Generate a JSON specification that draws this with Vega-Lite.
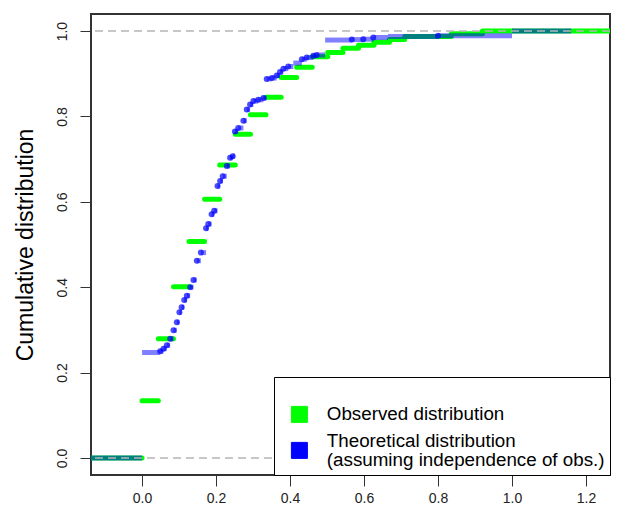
{
  "$schema": "https://vega.github.io/schema/vega-lite/v6.json",
  "width": 519,
  "height": 461,
  "autosize": "none",
  "padding": {"left": 91, "top": 14, "right": 14, "bottom": 37},
  "background": "white",
  "config": {
    "view": {"stroke": "#333333", "strokeWidth": 2},
    "font": "Liberation Sans",
    "axis": {
      "grid": false,
      "domain": false,
      "tickColor": "#333333",
      "tickSize": 11,
      "tickWidth": 1,
      "labelFontSize": 14,
      "labelColor": "#222222",
      "labelFont": "Liberation Sans",
      "titleFont": "Liberation Sans"
    }
  },
  "datasets": {
    "observed": [
      {"x": -0.3, "x_end": 0.0, "cdf": 0},
      {"x": 0.0, "x_end": 0.044, "cdf": 0.134},
      {"x": 0.044, "x_end": 0.085, "cdf": 0.279},
      {"x": 0.085, "x_end": 0.127, "cdf": 0.401},
      {"x": 0.127, "x_end": 0.169, "cdf": 0.507},
      {"x": 0.169, "x_end": 0.21, "cdf": 0.606},
      {"x": 0.21, "x_end": 0.252, "cdf": 0.686},
      {"x": 0.252, "x_end": 0.293, "cdf": 0.758},
      {"x": 0.293, "x_end": 0.335, "cdf": 0.804},
      {"x": 0.335, "x_end": 0.376, "cdf": 0.845},
      {"x": 0.376, "x_end": 0.418, "cdf": 0.891},
      {"x": 0.418, "x_end": 0.46, "cdf": 0.915},
      {"x": 0.46, "x_end": 0.502, "cdf": 0.94},
      {"x": 0.502, "x_end": 0.543, "cdf": 0.95},
      {"x": 0.543, "x_end": 0.585, "cdf": 0.96},
      {"x": 0.585, "x_end": 0.627, "cdf": 0.967},
      {"x": 0.627, "x_end": 0.669, "cdf": 0.974},
      {"x": 0.669, "x_end": 0.71, "cdf": 0.98},
      {"x": 0.71, "x_end": 0.836, "cdf": 0.987},
      {"x": 0.836, "x_end": 0.92, "cdf": 0.994},
      {"x": 0.92, "x_end": 1.5, "cdf": 1.0}
    ],
    "theoretical": [
      {"x": -0.3, "x_end": 0.0, "cdf": 0},
      {"x": 0.0, "x_end": 0.049, "cdf": 0.247},
      {"x": 0.049, "x_end": 0.058, "cdf": 0.25},
      {"x": 0.058, "x_end": 0.067, "cdf": 0.256},
      {"x": 0.067, "x_end": 0.076, "cdf": 0.264},
      {"x": 0.076, "x_end": 0.085, "cdf": 0.279},
      {"x": 0.085, "x_end": 0.094, "cdf": 0.299},
      {"x": 0.094, "x_end": 0.101, "cdf": 0.318},
      {"x": 0.101, "x_end": 0.107, "cdf": 0.341},
      {"x": 0.107, "x_end": 0.114, "cdf": 0.353},
      {"x": 0.114, "x_end": 0.121, "cdf": 0.37},
      {"x": 0.121, "x_end": 0.13, "cdf": 0.38},
      {"x": 0.13, "x_end": 0.139, "cdf": 0.4},
      {"x": 0.139, "x_end": 0.148, "cdf": 0.417},
      {"x": 0.148, "x_end": 0.159, "cdf": 0.462},
      {"x": 0.159, "x_end": 0.173, "cdf": 0.481},
      {"x": 0.173, "x_end": 0.179, "cdf": 0.538},
      {"x": 0.179, "x_end": 0.188, "cdf": 0.548},
      {"x": 0.188, "x_end": 0.195, "cdf": 0.571},
      {"x": 0.195, "x_end": 0.204, "cdf": 0.579},
      {"x": 0.204, "x_end": 0.211, "cdf": 0.637},
      {"x": 0.211, "x_end": 0.218, "cdf": 0.649},
      {"x": 0.218, "x_end": 0.229, "cdf": 0.66},
      {"x": 0.229, "x_end": 0.238, "cdf": 0.684},
      {"x": 0.238, "x_end": 0.245, "cdf": 0.703},
      {"x": 0.245, "x_end": 0.251, "cdf": 0.707},
      {"x": 0.251, "x_end": 0.26, "cdf": 0.765},
      {"x": 0.26, "x_end": 0.274, "cdf": 0.773},
      {"x": 0.274, "x_end": 0.283, "cdf": 0.79},
      {"x": 0.283, "x_end": 0.292, "cdf": 0.816},
      {"x": 0.292, "x_end": 0.301, "cdf": 0.828},
      {"x": 0.301, "x_end": 0.314, "cdf": 0.836},
      {"x": 0.314, "x_end": 0.328, "cdf": 0.839},
      {"x": 0.328, "x_end": 0.337, "cdf": 0.843},
      {"x": 0.337, "x_end": 0.351, "cdf": 0.888},
      {"x": 0.351, "x_end": 0.364, "cdf": 0.89},
      {"x": 0.364, "x_end": 0.373, "cdf": 0.896},
      {"x": 0.373, "x_end": 0.382, "cdf": 0.904},
      {"x": 0.382, "x_end": 0.395, "cdf": 0.912},
      {"x": 0.395, "x_end": 0.409, "cdf": 0.917},
      {"x": 0.409, "x_end": 0.432, "cdf": 0.925},
      {"x": 0.432, "x_end": 0.445, "cdf": 0.934},
      {"x": 0.445, "x_end": 0.463, "cdf": 0.938},
      {"x": 0.463, "x_end": 0.472, "cdf": 0.942},
      {"x": 0.472, "x_end": 0.495, "cdf": 0.944},
      {"x": 0.495, "x_end": 0.567, "cdf": 0.979},
      {"x": 0.567, "x_end": 0.598, "cdf": 0.98},
      {"x": 0.598, "x_end": 0.625, "cdf": 0.981},
      {"x": 0.625, "x_end": 0.665, "cdf": 0.985},
      {"x": 0.665, "x_end": 0.8, "cdf": 0.987},
      {"x": 0.8, "x_end": 1.0, "cdf": 0.989},
      {"x": 1.0, "x_end": 1.16, "cdf": 1.0}
    ],
    "theoretical_jumps": [
      {"x": 0.049, "cdf": 0.25}, {"x": 0.058, "cdf": 0.256}, {"x": 0.067, "cdf": 0.264},
      {"x": 0.076, "cdf": 0.279}, {"x": 0.085, "cdf": 0.299}, {"x": 0.094, "cdf": 0.318},
      {"x": 0.101, "cdf": 0.341}, {"x": 0.107, "cdf": 0.353}, {"x": 0.114, "cdf": 0.37},
      {"x": 0.121, "cdf": 0.38}, {"x": 0.13, "cdf": 0.4}, {"x": 0.139, "cdf": 0.417},
      {"x": 0.148, "cdf": 0.462}, {"x": 0.159, "cdf": 0.481}, {"x": 0.173, "cdf": 0.538},
      {"x": 0.179, "cdf": 0.548}, {"x": 0.188, "cdf": 0.571}, {"x": 0.195, "cdf": 0.579},
      {"x": 0.204, "cdf": 0.637}, {"x": 0.211, "cdf": 0.649}, {"x": 0.218, "cdf": 0.66},
      {"x": 0.229, "cdf": 0.684}, {"x": 0.238, "cdf": 0.703}, {"x": 0.245, "cdf": 0.707},
      {"x": 0.251, "cdf": 0.765}, {"x": 0.26, "cdf": 0.773}, {"x": 0.274, "cdf": 0.79},
      {"x": 0.283, "cdf": 0.816}, {"x": 0.292, "cdf": 0.828}, {"x": 0.301, "cdf": 0.836},
      {"x": 0.314, "cdf": 0.839}, {"x": 0.328, "cdf": 0.843}, {"x": 0.337, "cdf": 0.888},
      {"x": 0.351, "cdf": 0.89}, {"x": 0.364, "cdf": 0.896}, {"x": 0.373, "cdf": 0.904},
      {"x": 0.382, "cdf": 0.912}, {"x": 0.395, "cdf": 0.917}, {"x": 0.432, "cdf": 0.934},
      {"x": 0.445, "cdf": 0.938}, {"x": 0.463, "cdf": 0.942}, {"x": 0.472, "cdf": 0.944},
      {"x": 0.567, "cdf": 0.98}, {"x": 0.598, "cdf": 0.981}, {"x": 0.625, "cdf": 0.985},
      {"x": 0.8, "cdf": 0.989}
    ],
    "reference_levels": [{"level": 0}, {"level": 1}]
  },
  "layer": [
    {
      "data": {"name": "observed"},
      "mark": {"type": "rule", "strokeWidth": 5, "strokeCap": "round", "clip": true},
      "encoding": {
        "x": {
          "field": "x",
          "type": "quantitative",
          "scale": {"domain": [-0.138, 1.265], "nice": false, "zero": false},
          "axis": {"values": [0, 0.2, 0.4, 0.6, 0.8, 1.0, 1.2], "format": ".1f", "title": null, "labelPadding": 5}
        },
        "x2": {"field": "x_end"},
        "y": {
          "field": "cdf",
          "type": "quantitative",
          "scale": {"domain": [-0.04, 1.04], "nice": false, "zero": false},
          "axis": {
            "values": [0, 0.2, 0.4, 0.6, 0.8, 1.0],
            "format": ".1f",
            "labelAngle": -90,
            "labelAlign": "center",
            "labelBaseline": "top",
            "labelPadding": 25,
            "title": "Cumulative distribution",
            "titleFontSize": 23,
            "titleFontWeight": "normal",
            "titleColor": "black",
            "titlePadding": 18
          }
        },
        "color": {
          "datum": "Observed distribution",
          "type": "nominal",
          "scale": {"domain": ["Observed distribution", "Theoretical distribution"], "range": ["#00ff00", "#0000ff"]},
          "legend": {
            "title": " ",
            "titleFontSize": 14,
            "titlePadding": 9,
            "orient": "bottom-right",
            "offset": 0,
            "padding": 5,
            "fillColor": "white",
            "strokeColor": "black",
            "symbolType": "square",
            "symbolSize": 256,
            "symbolOffset": 11,
            "symbolStrokeColor": "black",
            "symbolStrokeWidth": 1,
            "symbolOpacity": 1,
            "labelOffset": 18,
            "labelFontSize": 18.8,
            "labelFont": "Liberation Sans",
            "labelColor": "black",
            "labelLimit": 600,
            "rowPadding": 6,
            "labelExpr": "datum.label == 'Theoretical distribution' ? ['Theoretical distribution', '(assuming independence of obs.)\u00a0'] : datum.label",
            "encode": {
              "symbols": {
                "update": {
                  "fill": {"scale": "color", "field": "value"},
                  "fillOpacity": {"value": 1},
                  "opacity": {"value": 1},
                  "stroke": {"value": "black"},
                  "strokeWidth": {"value": 1},
                  "strokeOpacity": {"value": 1}
                }
              },
              "labels": {
                "update": {
                  "lineHeight": {"value": 19},
                  "dy": {"signal": "datum.value == 'Theoretical distribution' ? -9.5 : 0"}
                }
              }
            }
          }
        }
      }
    },
    {
      "data": {"name": "theoretical"},
      "mark": {"type": "rule", "strokeWidth": 5, "strokeCap": "butt", "opacity": 0.5, "clip": true},
      "encoding": {
        "x": {"field": "x", "type": "quantitative"},
        "x2": {"field": "x_end"},
        "y": {"field": "cdf", "type": "quantitative"},
        "color": {"datum": "Theoretical distribution", "type": "nominal"}
      }
    },
    {
      "data": {"name": "theoretical_jumps"},
      "mark": {"type": "point", "shape": "circle", "filled": true, "size": 36, "color": "#0000ff", "opacity": 0.7, "clip": true},
      "encoding": {
        "x": {"field": "x", "type": "quantitative"},
        "y": {"field": "cdf", "type": "quantitative"}
      }
    },
    {
      "data": {"name": "reference_levels"},
      "mark": {"type": "rule", "color": "#b5b5b5", "strokeWidth": 1.5, "strokeDash": [8, 5]},
      "encoding": {
        "y": {"field": "level", "type": "quantitative"}
      }
    }
  ]
}
